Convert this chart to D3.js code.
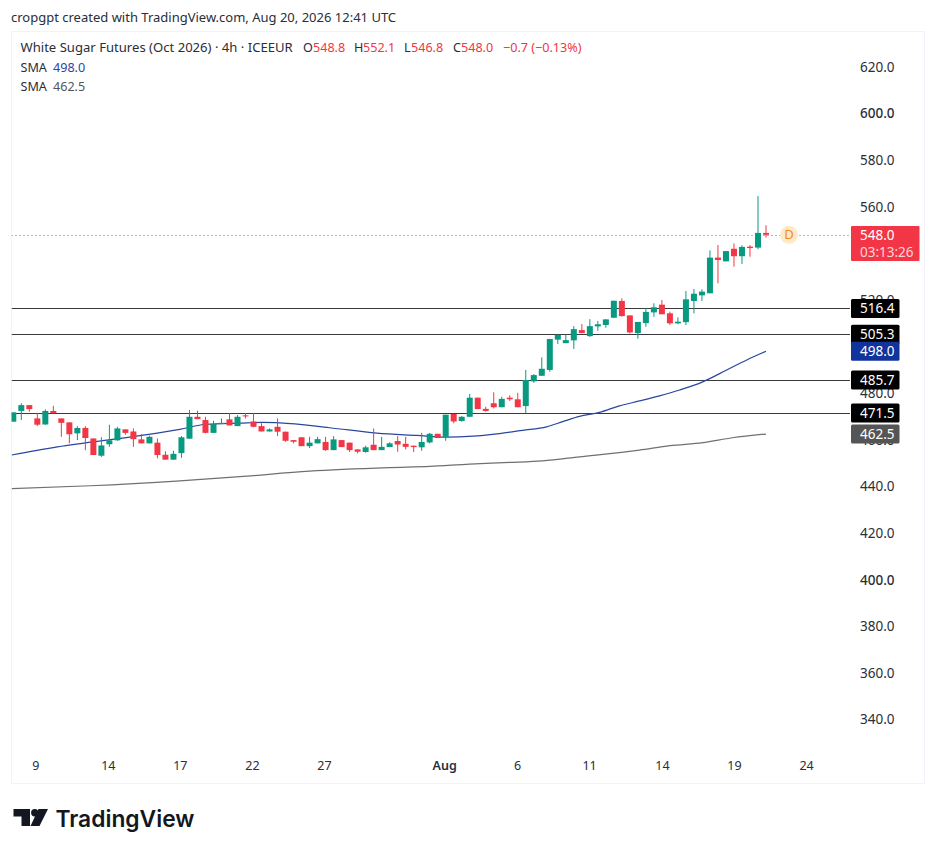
<!DOCTYPE html>
<html><head><meta charset="utf-8">
<script src="https://cdn.jsdelivr.net/npm/d3@7/dist/d3.min.js"></script>
<style>html,body{margin:0;padding:0;background:#fff}svg{display:block}text{font-family:"Noto Sans",sans-serif}</style>
</head><body><svg id="c" width="936" height="852"></svg>
<script>
const opens=[467.8,472.4,474.9,469.2,466.6,472.4,469.2,467.5,462.8,465.1,460.6,453.2,458.1,459.8,464.5,463.6,460.2,458.5,458.8,453.6,451.5,454.3,460.5,469.9,468.5,463.0,466.8,468.8,465.9,470.5,467.9,465.9,463.6,465.6,463.5,459.9,461.1,457.3,458.5,459.1,455.6,459.9,458.8,455.9,454.8,457.9,455.6,456.9,459.5,458.3,457.5,456.8,458.9,462.6,461.3,471.1,468.1,469.9,478.1,473.3,475.7,474.0,478.1,477.4,474.5,485.1,487.5,490.0,503.0,501.5,502.7,507.1,504.5,508.7,509.3,512.4,519.6,513.4,505.8,510.1,514.7,518.0,514.3,510.0,510.5,519.6,522.0,522.9,538.2,536.6,542.0,538.8,542.9,542.5,548.8];
const highs=[471.8,475.7,474.9,471.4,473.1,474.6,469.2,467.5,465.9,465.9,460.6,461.1,466.5,465.6,464.5,464.9,462.5,461.8,460.6,455.1,455.3,461.6,472.8,472.5,469.9,468.2,469.2,471.4,470.6,471.4,471.4,467.1,464.9,469.2,463.5,459.9,461.1,461.3,461.3,461.3,461.6,459.9,458.8,455.9,457.5,464.9,461.3,459.0,461.6,461.3,457.5,463.0,463.0,462.6,470.8,471.1,470.2,479.7,478.1,474.2,480.4,478.5,479.1,480.2,490.0,488.2,495.4,503.3,505.1,505.1,508.8,509.7,511.8,511.0,511.8,519.7,520.7,513.4,510.6,516.5,518.6,520.0,515.0,512.6,523.9,524.7,524.6,541.3,543.6,541.0,544.3,543.5,543.6,564.6,552.1];
const lows=[467.8,468.5,472.1,465.9,466.5,471.4,461.3,458.5,459.9,455.6,453.5,452.7,457.0,459.6,462.2,457.0,458.5,458.5,452.1,451.5,451.5,452.3,460.5,468.9,462.8,463.0,466.8,466.2,465.9,469.2,465.4,463.6,463.6,461.6,459.2,458.5,457.3,456.5,458.5,455.3,455.6,456.9,454.8,454.2,454.5,455.6,455.6,456.9,454.9,455.9,454.8,455.3,458.5,460.8,459.6,467.1,467.8,469.9,473.2,472.1,473.5,474.0,476.7,474.0,471.4,484.5,487.5,489.2,501.1,501.5,499.0,505.8,504.2,506.8,508.1,512.4,512.9,505.7,503.4,508.5,512.8,513.9,509.3,509.6,509.3,514.3,519.6,522.9,527.2,536.6,534.3,535.5,538.6,541.8,546.8];
const closes=[471.8,474.9,473.2,466.5,472.4,471.4,467.3,462.4,465.1,460.8,453.5,457.6,459.8,464.9,463.0,460.3,458.5,461.3,453.5,451.5,454.0,461.1,469.9,468.9,463.0,466.8,467.3,466.2,469.9,470.1,465.6,463.6,464.5,463.5,459.6,459.2,457.3,458.8,460.3,455.6,460.2,456.9,455.6,454.9,456.8,455.6,457.0,458.5,458.0,457.0,456.9,459.1,462.6,460.8,470.8,467.9,469.9,478.1,473.2,472.4,474.0,477.6,477.4,474.0,485.7,487.8,490.5,503.3,505.1,502.8,507.5,505.8,508.8,509.6,511.7,519.7,513.1,506.1,510.6,514.9,516.9,513.9,510.0,510.7,520.3,522.7,523.6,538.2,537.2,541.0,538.8,542.8,542.3,548.8,548.0];
const smaFastBars=[-0.2,5.5,15.8,20.8,24.1,28.3,31.2,33.3,39.5,45.4,50.4,54.1,57.4,60.4,63.6,66.6,68.6,70.7,73.2,75.7,78.2,80.7,83.2,86.1,89.1,91.6,94];
const smaFast=[453.5,457.0,461.8,464.5,466.7,467.2,467.5,467.3,465.2,462.9,461.9,461.2,461.6,462.6,464.1,465.6,467.8,470.1,471.8,474.6,476.7,478.9,481.4,484.9,490.0,494.3,498.0];
const smaSlowBars=[-0.2,9.6,20.8,28.3,37,47,52,57,62,66.1,70.7,78.2,82,86.1,89.8,94];
const smaSlow=[439.1,440.3,442.4,444.2,446.6,448.1,448.6,449.6,450.3,451.0,452.7,455.6,457.5,458.8,460.9,462.5];
const priceTicks=[620,600,580,560,540,520,500,480,460,440,420,400,380,360,340];
const levels=[516.4,505.3,485.7,471.5];
const dateTickBars=[2.75,11.8,20.8,29.8,38.8,53.8,62.9,71.9,81,90,99];
const dateTickLabels=["9","14","17","22","27","Aug","6","11","14","19","24"];
const lastPrice=548.0, countdown="03:13:26";
const green="#089981", red="#F23645", blue="#2a479f", gray="#6f7075";

const svg=d3.select("#c");
const x=d3.scaleLinear().domain([0,94]).range([13.3,766]);
const y=d3.scaleLinear().domain([340,620]).range([719.5,67]);
const L=11.5,R=924.5,T=31.5,B=783.5,AX=850;

svg.append("rect").attr("x",L).attr("y",T).attr("width",R-L).attr("height",B-T).attr("fill","#fff").attr("stroke","#f0f3fa");
svg.append("defs").append("clipPath").attr("id","pane").append("rect").attr("x",L).attr("y",T).attr("width",AX-L).attr("height",B-T);

svg.append("text").attr("x",11).attr("y",22).attr("font-size",13).attr("fill","#2a2e39").text("cropgpt created with TradingView.com, Aug 20, 2026 12:41 UTC");

// price axis
const ya=svg.append("g").attr("transform",`translate(860,0)`).call(d3.axisRight(y).tickValues(priceTicks).tickSize(0).tickPadding(0).tickFormat(d3.format(".1f")));
ya.select(".domain").remove();
ya.selectAll("text").attr("font-size",13.5).attr("fill","#2a2e39").style("font-family",'"Noto Sans",sans-serif')
  .attr("font-weight",d=>(d===600||d===400)?500:400);
// date axis
const xa=svg.append("g").attr("transform",`translate(0,761)`).call(d3.axisBottom(x).tickValues(dateTickBars).tickSize(0).tickPadding(0).tickFormat((d,i)=>dateTickLabels[i]));
xa.select(".domain").remove();
xa.selectAll("text").attr("font-size",12.5).attr("fill","#2a2e39").style("font-family",'"Noto Sans",sans-serif');
xa.selectAll("text").filter((d,i)=>dateTickLabels[i]==="Aug").attr("font-weight",600);

const plot=svg.append("g").attr("clip-path","url(#pane)");
plot.append("g").selectAll("line").data(levels).join("line")
  .attr("x1",L).attr("x2",AX).attr("y1",d=>Math.round(y(d))+.5).attr("y2",d=>Math.round(y(d))+.5).attr("stroke","#3a3a3c").attr("stroke-width",1);
const lastY=Math.round(y(lastPrice))+.5;
plot.append("line").attr("x1",L).attr("x2",AX).attr("y1",lastY).attr("y2",lastY).attr("stroke",red).attr("stroke-width",1).attr("stroke-dasharray","1 3");

const ln=d3.line().curve(d3.curveMonotoneX);
const drawSma=(bars,vals,col,w)=>plot.append("path").attr("fill","none").attr("stroke",col).attr("stroke-width",w)
  .attr("d",ln(bars.map((b,i)=>[x(b),y(vals[i])])));
drawSma(smaSlowBars,smaSlow,gray,1.2);
drawSma(smaFastBars,smaFast,blue,1.2);

const idx=d3.range(opens.length);
const cg=plot.append("g");
cg.selectAll("line").data(idx).join("line")
  .attr("x1",i=>x(i)).attr("x2",i=>x(i)).attr("y1",i=>y(highs[i])).attr("y2",i=>y(lows[i]))
  .attr("stroke",i=>closes[i]>=opens[i]?green:red).attr("stroke-width",1);
cg.selectAll("rect").data(idx).join("rect")
  .attr("x",i=>x(i)-3).attr("width",6)
  .attr("y",i=>y(Math.max(opens[i],closes[i])))
  .attr("height",i=>Math.max(1,Math.abs(y(opens[i])-y(closes[i]))))
  .attr("fill",i=>closes[i]>=opens[i]?green:red);

// D marker
const dx=789,dy=y(lastPrice);
svg.append("circle").attr("cx",dx).attr("cy",dy).attr("r",9).attr("fill","#ffe9c7");
svg.append("text").attr("x",dx).attr("y",dy+4.5).attr("text-anchor","middle").attr("font-size",13).attr("fill","#f08c1a").text("D");

// price labels
const labels=[[516.4,"#000000"],[505.3,"#000000"],[498.0,"#12339b"],[485.7,"#000000"],[471.5,"#000000"],[462.5,"#555555"]];
labels.forEach(([v,c])=>{
  const cy=y(v);
  svg.append("rect").attr("x",851).attr("y",cy-9.5).attr("width",48.5).attr("height",19).attr("rx",1.5).attr("fill",c);
  svg.append("text").attr("x",860).attr("y",cy+4.7).attr("font-size",13.5).attr("fill","#fff").text(v.toFixed(1));
});
svg.append("rect").attr("x",851).attr("y",226).attr("width",68.5).attr("height",35).attr("rx",1).attr("fill",red);
svg.append("text").attr("x",860).attr("y",240).attr("font-size",13.5).attr("fill","#fff").text(lastPrice.toFixed(1));
svg.append("text").attr("x",860).attr("y",256.5).attr("font-size",13.5).attr("fill","#fff").attr("fill-opacity",.8).text(countdown);

// legend
const lg=svg.append("g").attr("font-size",12.6);
lg.append("text").attr("x",20.5).attr("y",52).attr("font-size",13.1).attr("fill","#2a2e39").text("White Sugar Futures (Oct 2026) · 4h · ICEEUR");
[[303,"O"],[354,"H"],[404,"L"],[453,"C"]].forEach(([px,t])=>lg.append("text").attr("x",px).attr("y",52).attr("fill","#2a2e39").text(t));
[[313,"548.8"],[363,"552.1"],[411,"546.8"],[461,"548.0"],[503,"−0.7 (−0.13%)"]].forEach(([px,t])=>lg.append("text").attr("x",px).attr("y",52).attr("fill",red).text(t));
lg.append("text").attr("x",20.5).attr("y",72).attr("fill","#2a2e39").text("SMA");
lg.append("text").attr("x",53).attr("y",72).attr("fill",blue).text("498.0");
lg.append("text").attr("x",20.5).attr("y",91).attr("fill","#2a2e39").text("SMA");
lg.append("text").attr("x",53).attr("y",91).attr("fill","#555").text("462.5");

// logo
const lo=svg.append("g").attr("fill","#131722");
lo.append("path").attr("d","M13.5 809H30V826H21.5V816.5H13.5Z");
lo.append("circle").attr("cx",34.8).attr("cy",812.8).attr("r",3.7);
lo.append("path").attr("d","M38.5 809H48L39.5 826H30.5Z");
svg.append("text").attr("x",55.5).attr("y",826.5).attr("font-size",22.8).attr("font-weight",600).attr("fill","#131722").style("font-family","Inter,sans-serif").text("TradingView");
</script></body></html>
